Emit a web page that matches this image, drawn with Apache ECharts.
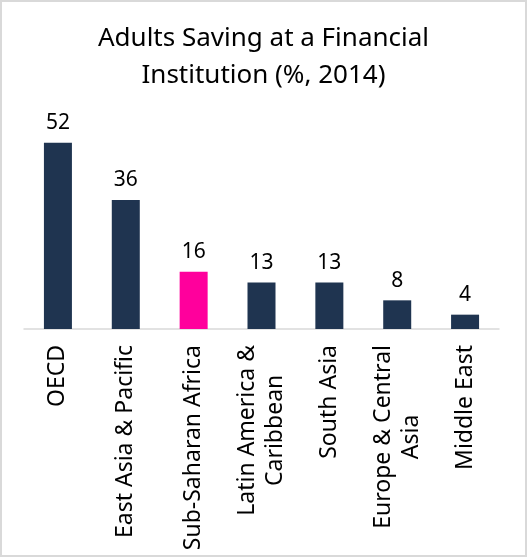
<!DOCTYPE html>
<html>
<head>
<meta charset="utf-8">
<script src="https://cdn.jsdelivr.net/npm/echarts@6/dist/echarts.min.js"></script>
<style>
  html, body { margin: 0; padding: 0; background: #fff; }
  #main { width: 527px; height: 557px; box-sizing: border-box; border: 2px solid #d9d9d9; }
</style>
</head>
<body>
<div id="main"></div>
<script>
// data
var regions = ['OECD', 'East Asia & Pacific', 'Sub-Saharan Africa', 'Latin America &\nCaribbean',
               'South Asia', 'Europe & Central\nAsia', 'Middle East'];
var saving = [52, 36, 16, 13, 13, 8, 4];
var highlighted = 'Sub-Saharan Africa';

var navy = '#1f3450';
var pink = '#ff009c';
var font = 'Noto Sans';

var myChart = echarts.init(document.getElementById('main'));

var barData = [];
for (var i = 0; i < saving.length; i++) {
    barData.push({
        value: saving[i],
        itemStyle: { color: regions[i] === highlighted ? pink : navy }
    });
}

var option = {
    animation: false,
    title: {
        text: 'Adults Saving at a Financial\nInstitution (%, 2014)',
        left: 'center',
        top: 13,
        textStyle: {
            fontFamily: font,
            fontSize: 26,
            fontWeight: 'normal',
            lineHeight: 37,
            color: '#000'
        }
    },
    grid: { left: 22, right: 26, top: 112, bottom: 226 },
    xAxis: {
        type: 'category',
        data: regions,
        axisLine: { lineStyle: { color: '#d9d9d9', width: 1.5 } },
        axisTick: { show: false },
        axisLabel: {
            interval: 0,
            rotate: 90,
            margin: 16,
            formatter: function (v) {
                return v.split('\n').map(function (s) { return '{a|' + s + '}'; }).join('\n');
            },
            rich: {
                a: {
                    align: 'center',
                    fontFamily: font,
                    fontSize: 23,
                    lineHeight: 28,
                    color: '#000'
                }
            }
        }
    },
    yAxis: {
        type: 'value',
        min: 0,
        max: 60,
        show: false,
        splitLine: { show: false }
    },
    series: [{
        type: 'bar',
        data: barData,
        barWidth: 28,
        label: {
            show: true,
            position: 'top',
            distance: 9,
            fontFamily: font,
            fontSize: 21,
            color: '#000'
        }
    }]
};

myChart.setOption(option);
</script>
</body>
</html>
